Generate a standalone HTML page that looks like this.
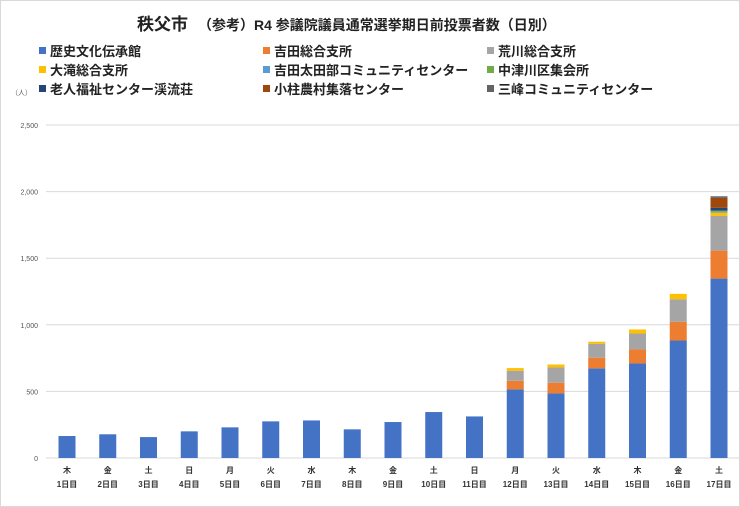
<!DOCTYPE html>
<html><head><meta charset="utf-8"><style>
body{margin:0;background:#fff;font-family:"Liberation Sans","Noto Sans CJK JP",sans-serif}
#c{position:relative;width:738px;height:505px;border:1px solid #d9d9d9;overflow:hidden}
.t{position:absolute;white-space:nowrap}
.lg{position:absolute;font-size:13px;font-weight:bold;color:#222;white-space:nowrap}
.lg i{display:inline-block;width:7px;height:7px;margin-right:4px;vertical-align:2px}
</style></head><body>
<div id="c">
<div class="t" style="left:136px;top:9px;font-size:17px;font-weight:bold;color:#222">秩父市　<span style="font-size:14px">（参考）R4 参議院議員通常選挙期日前投票者数（日別）</span></div>
<div id="legend"></div>
<div class="t" style="left:10px;top:87px;font-size:7px;color:#666">（人）</div>
<svg id="s" width="738" height="505" style="position:absolute;left:0;top:0"></svg>
</div>
<script>
const categories=["木\n1日目","金\n2日目","土\n3日目","日\n4日目","月\n5日目","火\n6日目","水\n7日目","木\n8日目","金\n9日目","土\n10日目","日\n11日目","月\n12日目","火\n13日目","水\n14日目","木\n15日目","金\n16日目","土\n17日目"];
const seriesNames=["歴史文化伝承館","吉田総合支所","荒川総合支所","大滝総合支所","吉田太田部コミュニティセンター","中津川区集会所","老人福祉センター渓流荘","小柱農村集落センター","三峰コミュニティセンター"];
const colors=["#4472C4","#ED7D31","#A5A5A5","#FFC000","#5B9BD5","#70AD47","#264478","#9E480E","#636363"];
const s0=[165,178,157,200,230,275,282,215,270,345,312,515,485,673,710,882,1347];
const s1=[0,0,0,0,0,0,0,0,0,0,0,65,80,80,105,140,210];
const s2=[0,0,0,0,0,0,0,0,0,0,0,75,115,105,120,170,260];
const s3=[0,0,0,0,0,0,0,0,0,0,0,20,22,15,30,40,25];
const s4=[0,0,0,0,0,0,0,0,0,0,0,0,0,0,0,0,8];
const s5=[0,0,0,0,0,0,0,0,0,0,0,0,0,0,0,0,8];
const s6=[0,0,0,0,0,0,0,0,0,0,0,0,0,0,0,0,20];
const s7=[0,0,0,0,0,0,0,0,0,0,0,0,0,0,0,0,75];
const s8=[0,0,0,0,0,0,0,0,0,0,0,0,0,0,0,0,12];
const series=[s0,s1,s2,s3,s4,s5,s6,s7,s8];
const yTicks=[0,500,1000,1500,2000,2500];
const yTickLabels=["0","500","1,000","1,500","2,000","2,500"];
const y0=457,yMax=2500,yTop=124;
const y=v=>y0-(v/yMax)*(y0-yTop);
const x=i=>66+i*40.75;
const svg=document.getElementById('s'),NS="http://www.w3.org/2000/svg";
function mk(t,a){const e=document.createElementNS(NS,t);for(const k in a)e.setAttribute(k,a[k]);svg.appendChild(e);return e;}
yTicks.forEach((v,i)=>{
 const l=mk('line',{x1:45,x2:738,y1:y(v),y2:y(v),stroke:'#d9d9d9','stroke-width':1});
 
 
 const t=mk('text',{x:37,y:y(v)+3,'text-anchor':'end','font-size':7,fill:'#555'});
 t.textContent=yTickLabels[i];
 
 
});
categories.forEach((c,i)=>{
 let acc=0;
 series.forEach((sr,j)=>{
  const v=sr[i]; if(!v)return;
  const r=mk('rect',{x:x(i)-8.5,y:y(acc+v),width:17,height:y(acc)-y(acc+v),fill:colors[j]});
  
  
  acc+=v;
 });
 const [a,b]=c.split('\n');
 const t1=mk('text',{x:x(i),y:472,'text-anchor':'middle','font-size':8,'font-weight':'bold',fill:'#333'});t1.textContent=a;
 
 
 const t2=mk('text',{x:x(i),y:486,'text-anchor':'middle','font-size':8,'font-weight':'bold',fill:'#333'});t2.textContent=b;
 
 
});
const lgd=document.getElementById('legend');
const colX=[38,262,486],rowY=[40,59,78];
seriesNames.forEach((n,i)=>{
 const d=document.createElement('div');d.className='lg';
 
 
 d.style.left=colX[i%3]+'px';d.style.top=rowY[Math.floor(i/3)]+'px';
 d.innerHTML='<i style="background:'+colors[i]+'"></i>'+n;lgd.appendChild(d);
});
</script>
</body></html>
